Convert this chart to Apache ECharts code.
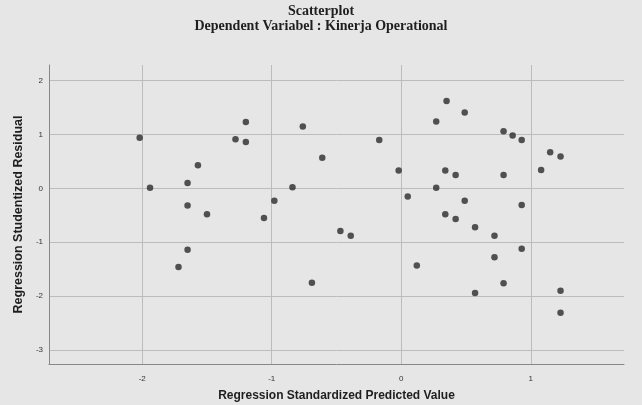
<!DOCTYPE html>
<html>
<head>
<meta charset="utf-8">
<script src="https://cdn.jsdelivr.net/npm/echarts@6/dist/echarts.min.js"></script>
<style>
html,body{margin:0;padding:0;background:#e6e6e6;}
#chart{width:642px;height:405px;}
</style>
</head>
<body>
<div id="chart"></div>
<script>
// standardized predicted value (x) and studentized residual (y)
var predicted = [-2.02,-1.94,-1.72,-1.65,-1.65,-1.65,-1.57,-1.50,-1.28,-1.20,-1.20,-1.06,-0.98,-0.84,-0.76,-0.69,
    -0.61,-0.47,-0.39,-0.17,-0.02,0.05,0.12,0.27,0.27,0.34,0.34,0.35,0.42,0.42,0.49,0.49,
    0.57,0.57,0.72,0.72,0.79,0.79,0.79,0.86,0.93,0.93,0.93,1.08,1.15,1.23,1.23,1.23];
var residual = [0.94,0.01,-1.46,-0.32,0.10,-1.14,0.43,-0.48,0.91,1.23,0.86,-0.55,-0.23,0.02,1.15,-1.75,
    0.57,-0.79,-0.88,0.90,0.33,-0.15,-1.43,1.24,0.01,-0.48,0.33,1.62,0.25,-0.57,-0.23,1.41,
    -0.72,-1.94,-0.88,-1.28,1.06,0.25,-1.76,0.98,0.90,-0.31,-1.12,0.34,0.67,0.59,-1.90,-2.31];
var xRange = [-2.72, 1.72];
var yRange = [-3.26, 2.29];

var points = [];
for (var i = 0; i < predicted.length; i++) {
    points.push([predicted[i], residual[i]]);
}

var myChart = echarts.init(document.getElementById('chart'));
var option = {
    backgroundColor: '#e6e6e6',
    title: {
        text: 'Scatterplot\nDependent Variabel : Kinerja Operational',
        left: 'center',
        top: 4,
        padding: [0, 0, 0, 8],
        textStyle: {
            fontFamily: 'Liberation Serif',
            fontSize: 14,
            fontWeight: 'bold',
            lineHeight: 15,
            color: '#1e1e1e'
        }
    },
    grid: {
        left: 49,
        right: 18,
        top: 65,
        bottom: 41,
        outerBoundsMode: 'none'
    },
    xAxis: {
        type: 'value',
        min: xRange[0],
        max: xRange[1],
        splitNumber: 5,
        name: 'Regression Standardized Predicted Value',
        nameLocation: 'middle',
        nameGap: 26,
        nameTextStyle: {
            fontFamily: 'Liberation Sans',
            fontSize: 12,
            fontWeight: 'bold',
            color: '#1e1e1e'
        },
        axisLine: {show: true, onZero: false, lineStyle: {color: '#888', width: 1}},
        axisTick: {show: false},
        axisLabel: {
            showMinLabel: false,
            showMaxLabel: false,
            fontSize: 8,
            margin: 11,
            color: '#333',
            fontFamily: 'Liberation Sans'
        },
        splitLine: {
            show: true,
            showMinLine: false,
            showMaxLine: false,
            lineStyle: {color: '#bcbcbc', width: 1}
        }
    },
    yAxis: {
        type: 'value',
        min: yRange[0],
        max: yRange[1],
        splitNumber: 5,
        name: 'Regression Studentized Residual',
        nameLocation: 'middle',
        nameGap: 18,
        nameTextStyle: {
            fontFamily: 'Liberation Sans',
            fontSize: 12.5,
            fontWeight: 'bold',
            color: '#1e1e1e'
        },
        axisLine: {show: true, onZero: false, lineStyle: {color: '#888', width: 1}},
        axisTick: {show: false},
        axisLabel: {
            showMinLabel: false,
            showMaxLabel: false,
            fontSize: 8,
            margin: 6,
            color: '#333',
            fontFamily: 'Liberation Sans'
        },
        splitLine: {
            show: true,
            showMinLine: false,
            showMaxLine: false,
            lineStyle: {color: '#bcbcbc', width: 1}
        }
    },
    series: [
        {
            type: 'scatter',
            data: points,
            symbolSize: 6.5,
            itemStyle: {color: '#2b2b2b'}
        }
    ]
};
myChart.setOption(option, true);
</script>
</body>
</html>
